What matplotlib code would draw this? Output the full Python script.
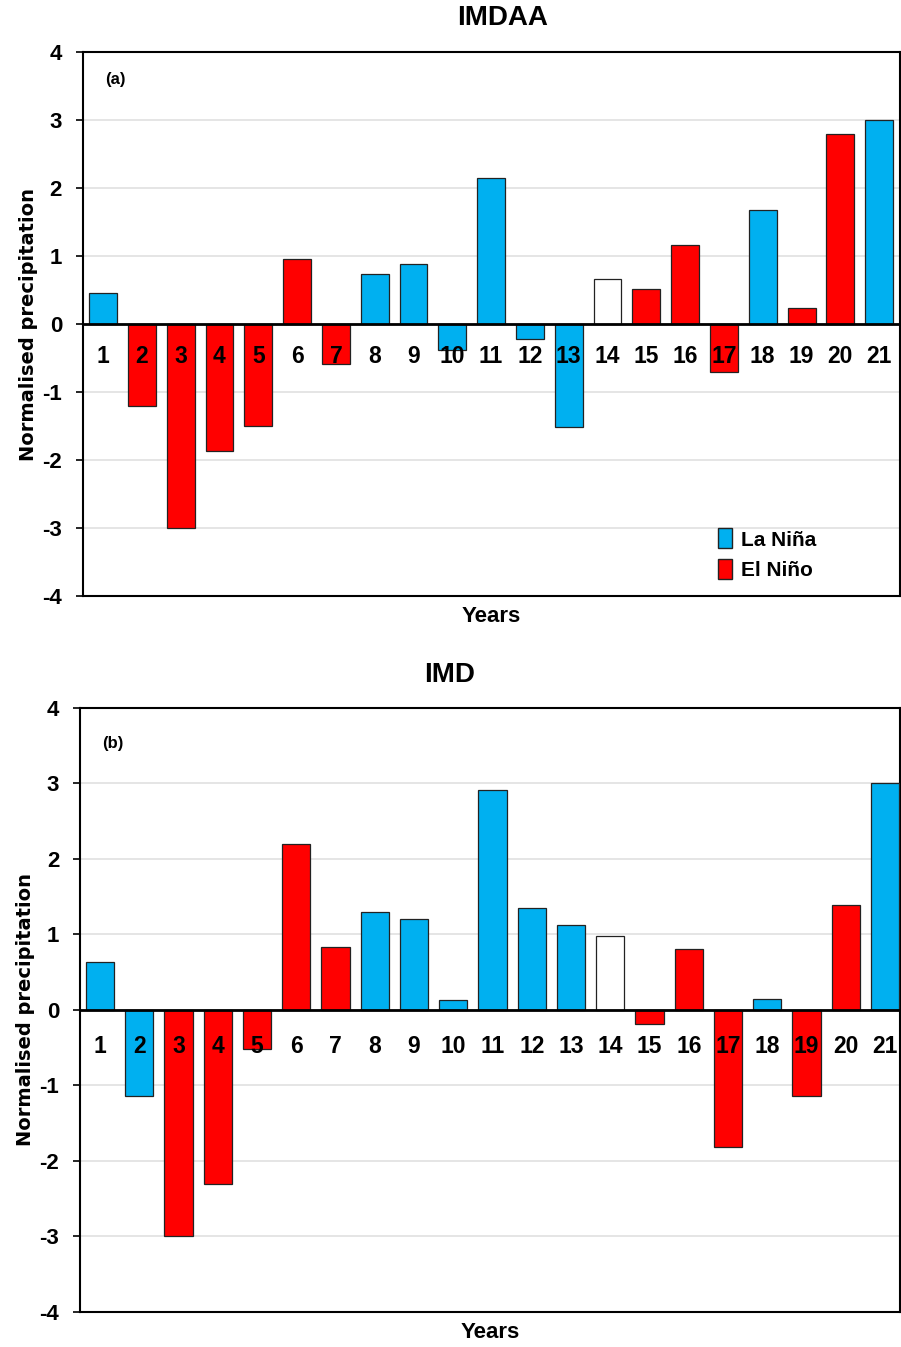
import matplotlib.pyplot as plt
from matplotlib.patches import Patch

years = list(range(1, 22))

imdaa = [0.45, -1.20, -3.00, -1.86, -1.50, 0.96, -0.59, 0.74, 0.88, -0.38, 2.15,
         -0.22, -1.52, 0.66, 0.52, 1.16, -0.71, 1.68, 0.24, 2.79, 3.00]
imdaa_phase = ["L", "E", "E", "E", "E", "E", "E", "L", "L", "L", "L",
               "L", "L", "N", "E", "E", "E", "L", "E", "E", "L"]

imd = [0.63, -1.14, -3.00, -2.31, -0.52, 2.20, 0.83, 1.30, 1.21, 0.13, 2.91,
       1.35, 1.12, 0.98, -0.18, 0.81, -1.82, 0.15, -1.14, 1.39, 3.00]
imd_phase = ["L", "L", "E", "E", "E", "E", "E", "L", "L", "L", "L",
             "L", "L", "N", "E", "E", "E", "L", "E", "E", "L"]

colours = {"L": "#00B0F0", "E": "#FF0000", "N": "white"}
narrow = ["Liberation Sans Narrow", "Liberation Sans", "DejaVu Sans"]

fig = plt.figure(figsize=(9.01, 13.47), dpi=100)


def panel(rect, vals, phase, title, title_xy, tag, tag_y, xlim, legend=False):
    ax = fig.add_axes(rect)
    ax.bar(years, vals, width=0.72, color=[colours[p] for p in phase],
           edgecolor="#222222", linewidth=0.9, zorder=3)
    ax.axhline(0, color="black", linewidth=2, zorder=4)
    ax.set_ylim(-4, 4)
    ax.set_xlim(*xlim)
    ax.set_yticks(range(-4, 5))
    ax.set_yticklabels([str(v) for v in range(-4, 5)], fontsize=16,
                       fontweight="bold", family=narrow)
    ax.set_xticks([])
    ax.grid(axis="y", color="#e0e0e0", linewidth=1.2, zorder=0)
    ax.tick_params(axis="y", length=5, width=1.2, pad=10)
    for s in ax.spines.values():
        s.set_linewidth(1.5)
    for x in years:
        ax.text(x, -0.48, str(x), ha="center", va="center", fontsize=16.5,
                fontweight="bold", family=narrow, zorder=5)
    ax.text(0.027, tag_y, tag, transform=ax.transAxes, fontsize=12,
            fontweight="bold", family=narrow, va="center")
    fig.text(title_xy[0], title_xy[1], title, ha="center", va="center",
             fontsize=20, fontweight="bold", family=narrow)
    ax.set_xlabel("Years", fontsize=16, fontweight="bold", family=narrow,
                  labelpad=7)
    ax.set_ylabel("Normalised precipitation", fontsize=14, fontweight="bold",
                  labelpad=3)
    if legend:
        h = [Patch(facecolor=colours["L"], edgecolor="#222222", label="La Niña"),
             Patch(facecolor=colours["E"], edgecolor="#222222", label="El Niño")]
        ax.legend(handles=h, loc="lower right", bbox_to_anchor=(0.92, -0.005),
                  frameon=False, prop={"family": narrow, "weight": "bold",
                                       "size": 15},
                  handlelength=0.7, handleheight=1.1, handletextpad=0.4,
                  labelspacing=0.45)
    return ax


panel([0.092, 0.5575, 0.907, 0.4039], imdaa, imdaa_phase, "IMDAA",
      (0.558, 0.9866), "(a)", 0.949, (0.48, 21.54), legend=True)
panel([0.0888, 0.026, 0.910, 0.4484], imd, imd_phase, "IMD",
      (0.4995, 0.4989), "(b)", 0.942, (0.49, 21.38))

fig.savefig("out.png", dpi=100)
